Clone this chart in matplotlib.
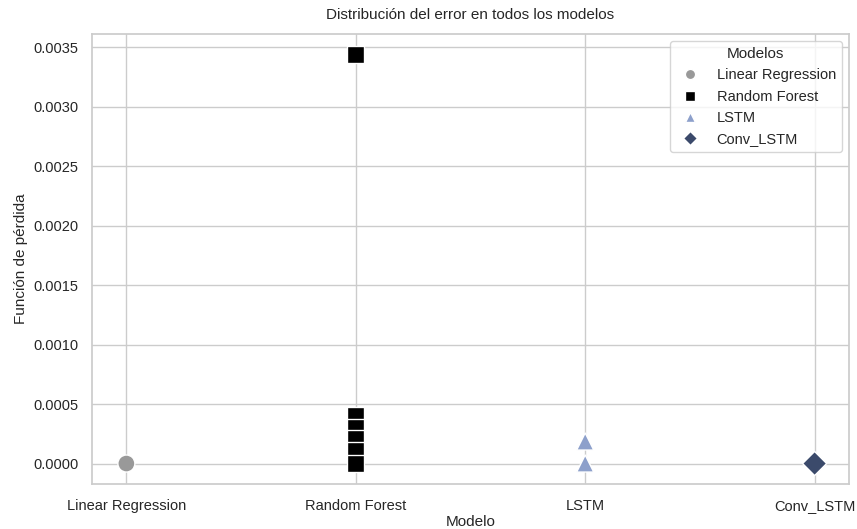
import numpy as np
import pandas as pd
import matplotlib
matplotlib.use("Agg")
import matplotlib.pyplot as plt
import seaborn as sns

modelos = ["Linear Regression", "Random Forest", "LSTM", "Conv_LSTM"]

# pérdidas por modelo
loss_lr = [0.0]
loss_rf = [0.00344, 0.00040, 0.00030, 0.00021, 0.00011, 0.0]
loss_lstm = [0.000185, 0.0]
loss_conv = [0.0]

colores = ["#999999", "#000000", "#8da0cb", "#3b4a6b"]
marcadores = ["o", "s", "^", "D"]

df = pd.DataFrame({
    "Modelo": (["Linear Regression"] * len(loss_lr) + ["Random Forest"] * len(loss_rf)
               + ["LSTM"] * len(loss_lstm) + ["Conv_LSTM"] * len(loss_conv)),
    "Loss": loss_lr + loss_rf + loss_lstm + loss_conv,
})

sns.set_theme(style="whitegrid")
plt.rcParams["font.family"] = ["Liberation Sans", "DejaVu Sans"]

fig, ax = plt.subplots(figsize=(8.57, 5.29), dpi=100)
sns.scatterplot(data=df, x="Modelo", y="Loss", hue="Modelo", style="Modelo",
                hue_order=modelos, style_order=modelos,
                palette=colores, markers=marcadores, s=150, ax=ax)

ax.set_title("Distribución del error en todos los modelos", fontsize=11, pad=11)
ax.set_xlabel("Modelo", fontsize=11, labelpad=1)
ax.set_ylabel("Función de pérdida", fontsize=11)
ax.tick_params(axis="x", labelsize=10.5, pad=5)
ax.tick_params(axis="y", labelsize=10.5)
ax.legend(title="Modelos", loc="upper right", fontsize=10.5, title_fontsize=11,
          markerscale=0.6)

plt.subplots_adjust(left=0.1073, right=0.9907, top=0.9357, bottom=0.0851)
plt.savefig("out.png", dpi=100)
